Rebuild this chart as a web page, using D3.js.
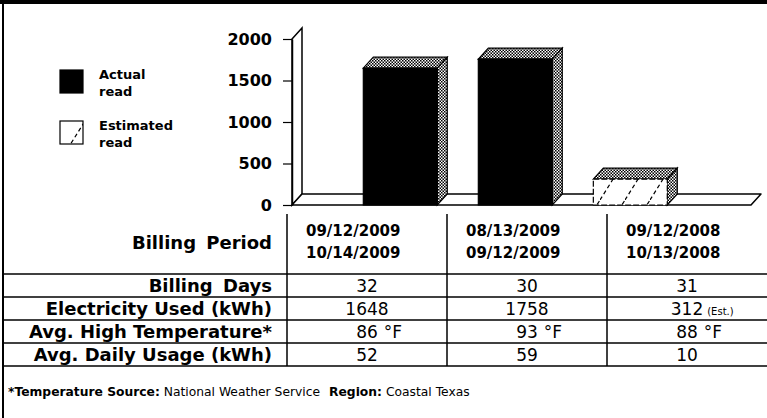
<!DOCTYPE html>
<html>
<head>
<meta charset="utf-8">
<script src="https://cdn.jsdelivr.net/npm/d3@7"></script>
<style>
  body { margin: 0; background: #fff; }
  svg { display: block; font-family: "DejaVu Sans", sans-serif; }
  .bold { font-weight: bold; }
</style>
</head>
<body>
<svg width="767" height="418"></svg>
<script>
const periodStart = ["09/12/2009", "08/13/2009", "09/12/2008"];
const periodEnd = ["10/14/2009", "09/12/2009", "10/13/2008"];
const readType = ["Actual", "Actual", "Estimated"];
const billingDays = [32, 30, 31];
const kwhUsed = [1648, 1758, 312];
const avgHighTemp = [86, 93, 88];
const avgDailyUsage = [52, 59, 10];
const yTicks = [0, 500, 1000, 1500, 2000];
const rowLabels = ["Billing Days", "Electricity Used (kWh)", "Avg. High Temperature*", "Avg. Daily Usage (kWh)"];
const legendItems = [["Actual", "read"], ["Estimated", "read"]];

const width = 767, height = 418;
const depthX = 10, depthY = -11;

const svg = d3.select("svg");

// patterns
const defs = svg.append("defs");
const checker = defs.append("pattern")
    .attr("id", "checker")
    .attr("patternUnits", "userSpaceOnUse")
    .attr("width", 3).attr("height", 3);
checker.append("rect").attr("width", 3).attr("height", 3).attr("fill", "#fff");
checker.append("path").attr("d", "M0,0h1.5v1.5h-1.5z M1.5,1.5h1.5v1.5h-1.5z").attr("fill", "#000");

const hatch = defs.append("pattern")
    .attr("id", "hatch")
    .attr("patternUnits", "userSpaceOnUse")
    .attr("width", 25).attr("height", 40);
hatch.append("rect").attr("width", 25).attr("height", 40).attr("fill", "#fff");
hatch.append("line")
    .attr("x1", 0).attr("y1", 40).attr("x2", 25).attr("y2", 0)
    .attr("stroke", "#000").attr("stroke-width", 1.2)
    .attr("stroke-dasharray", "4,3");

// frame
svg.append("rect").attr("x", 0).attr("y", 0).attr("width", width).attr("height", 4).attr("fill", "#000");
svg.append("line").attr("x1", 3).attr("x2", 3).attr("y1", 0).attr("y2", height)
    .attr("stroke", "#000").attr("stroke-width", 2);

// scales
const periods = d3.range(periodStart.length);
const x = d3.scaleBand()
    .domain(periods)
    .range([292, 751])
    .paddingInner(0.357)
    .paddingOuter(0.674)
    .align(0.46);

const y = d3.scaleLinear()
    .domain([0, 2000])
    .range([205, 39]);

// back wall and floor
const y0 = y(0), yMax = y(2000);
svg.append("path")
    .attr("d", `M${292},${y0}V${yMax}l${depthX},${depthY}V${y0 + depthY}Z`)
    .attr("fill", "#fff").attr("stroke", "#000").attr("stroke-width", 1.5);
svg.append("path")
    .attr("d", `M${x.range()[0]},${y0}l${depthX},${depthY}H${x.range()[1] + depthX}l${-depthX},${-depthY}Z`)
    .attr("fill", "#fff").attr("stroke", "#000").attr("stroke-width", 1.5)
    .attr("stroke-linejoin", "round");

// y axis
const yAxis = d3.axisLeft(y)
    .tickValues(yTicks)
    .tickFormat(d3.format("d"))
    .tickSize(9)
    .tickSizeOuter(0)
    .tickPadding(11);

const gy = svg.append("g")
    .attr("transform", "translate(292,0)")
    .call(yAxis);
gy.select(".domain").attr("stroke-width", 1.5);
gy.selectAll(".tick line").attr("stroke-width", 1.2);
gy.selectAll(".tick text")
    .attr("font-family", "DejaVu Sans")
    .attr("font-weight", "bold")
    .attr("font-size", 16)
    .attr("fill", "#000");

// 3d bars
const bars = svg.append("g").selectAll("g")
    .data(periods)
    .join("g");

bars.append("path") // top face
    .attr("d", i => {
        const x0 = x(i), x1 = x(i) + x.bandwidth(), yt = y(kwhUsed[i]);
        return `M${x0},${yt}l${depthX},${depthY}H${x1 + depthX}L${x1},${yt}Z`;
    })
    .attr("fill", "url(#checker)").attr("stroke", "#000").attr("stroke-width", 1.2);

bars.append("path") // side face
    .attr("d", i => {
        const x1 = x(i) + x.bandwidth(), yt = y(kwhUsed[i]);
        return `M${x1},${yt}l${depthX},${depthY}V${y0 + depthY}L${x1},${y0}Z`;
    })
    .attr("fill", "url(#checker)").attr("stroke", "#000").attr("stroke-width", 1.2);

bars.append("rect") // front face
    .attr("x", i => x(i))
    .attr("y", i => y(kwhUsed[i]))
    .attr("width", x.bandwidth())
    .attr("height", i => y0 - y(kwhUsed[i]))
    .attr("fill", i => readType[i] === "Actual" ? "#000" : "url(#hatch)")
    .attr("stroke", "#000")
    .attr("stroke-width", 1.2)
    .attr("stroke-dasharray", i => readType[i] === "Actual" ? null : "6,2");

// legend
const legend = svg.append("g").selectAll("g")
    .data(legendItems)
    .join("g")
    .attr("transform", (d, i) => `translate(60,${70 + i * 51})`);

legend.append("rect")
    .attr("width", 23).attr("height", 23)
    .attr("fill", (d, i) => i === 0 ? "#000" : "url(#hatch)")
    .attr("stroke", "#000").attr("stroke-width", 1.2);

legend.append("text")
    .attr("class", "bold")
    .attr("x", 39)
    .attr("font-size", 13)
    .selectAll("tspan")
    .data(d => d)
    .join("tspan")
    .attr("x", 39)
    .attr("y", (d, j) => 9 + j * 17)
    .text(d => d);

// table
const col = d3.scaleBand().domain(periods).range([287, 767]);
const rowTops = [274, 297, 320, 343];
const rowH = 23;
const tableBottom = rowTops[3] + rowH;

const lines = svg.append("g").attr("stroke", "#000").attr("stroke-width", 1.5);
rowTops.concat([tableBottom]).forEach(t => {
    lines.append("line").attr("x1", 3).attr("x2", width).attr("y1", t).attr("y2", t);
});
periods.forEach(i => {
    lines.append("line").attr("x1", col(i)).attr("x2", col(i)).attr("y1", 214).attr("y2", tableBottom);
});

svg.append("text")
    .attr("class", "bold")
    .attr("x", 272).attr("y", 249)
    .attr("text-anchor", "end")
    .attr("font-size", 18)
    .attr("word-spacing", 4)
    .text("Billing Period");

const dates = svg.append("g").attr("class", "bold").attr("font-size", 15);
periods.forEach(i => {
    dates.append("text").attr("x", col(i) + 19).attr("y", 236).text(periodStart[i]);
    dates.append("text").attr("x", col(i) + 19).attr("y", 258).text(periodEnd[i]);
});

const rowData = [
    billingDays.map(v => [v, ""]),
    kwhUsed.map((v, i) => [v, readType[i] === "Estimated" ? "(Est.)" : ""]),
    avgHighTemp.map(v => [v, "°F"]),
    avgDailyUsage.map(v => [v, ""])
];

rowLabels.forEach((label, r) => {
    const base = rowTops[r] + rowH / 2 + 6.5;
    svg.append("text")
        .attr("class", "bold")
        .attr("x", 272).attr("y", base)
        .attr("text-anchor", "end")
        .attr("font-size", 18)
        .attr("word-spacing", r === 0 ? 4 : 0)
        .text(label);

    rowData[r].forEach(([v, suffix], i) => {
        const cx = col(i) + col.bandwidth() / 2;
        const t = svg.append("text")
            .attr("x", cx).attr("y", base)
            .attr("text-anchor", "middle")
            .attr("font-size", 17)
            .text(v);
        if (suffix) {
            const w = t.node().getComputedTextLength();
            svg.append("text")
                .attr("x", cx + w / 2 + (suffix === "°F" ? 6 : 4))
                .attr("y", base)
                .attr("font-size", suffix === "°F" ? 17 : 10)
                .text(suffix);
        }
    });
});

// footnote
const foot = svg.append("text")
    .attr("x", 8).attr("y", 396)
    .attr("font-size", 12.3);
foot.append("tspan").attr("font-weight", "bold").text("*Temperature Source:");
foot.append("tspan").text(" National Weather Service");
foot.append("tspan").attr("font-weight", "bold").attr("dx", 9).text("Region:");
foot.append("tspan").text(" Coastal Texas");
</script>
</body>
</html>
